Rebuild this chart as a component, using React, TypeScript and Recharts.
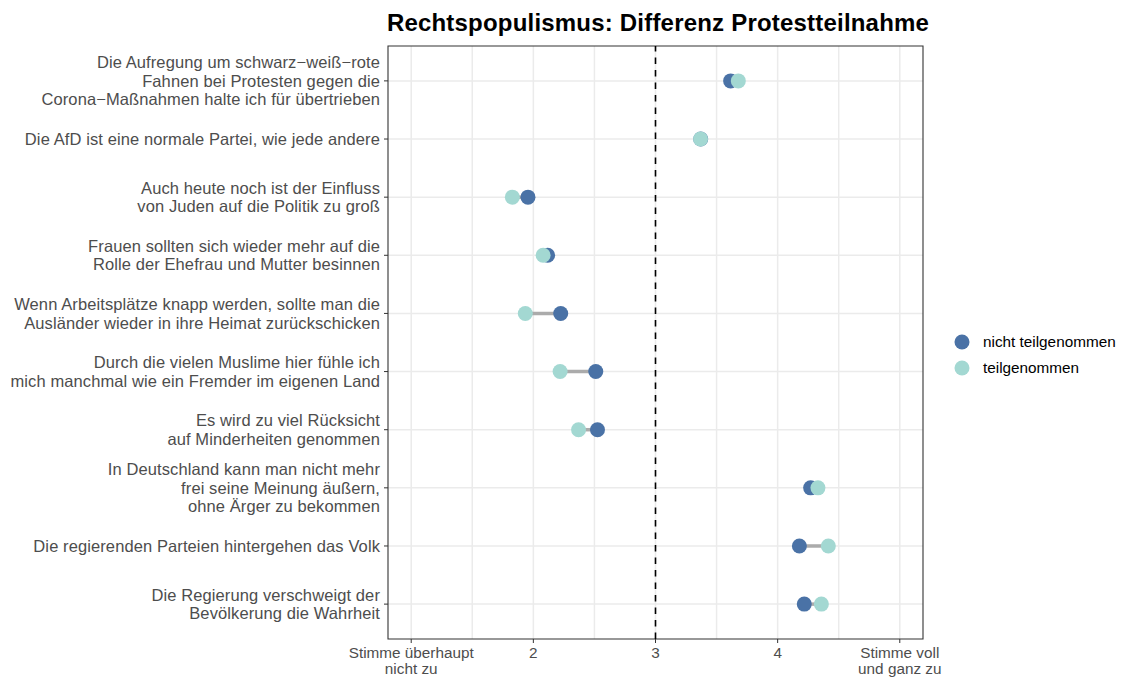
import React from "react";
import {
  ScatterChart,
  Scatter,
  XAxis,
  YAxis,
  CartesianGrid,
  ReferenceLine,
  ReferenceArea,
} from "recharts";

const statements: string[] = [
  "Die Aufregung um schwarz\u2212weiß\u2212rote\nFahnen bei Protesten gegen die\nCorona\u2212Maßnahmen halte ich für übertrieben",
  "Die AfD ist eine normale Partei, wie jede andere",
  "Auch heute noch ist der Einfluss\nvon Juden auf die Politik zu groß",
  "Frauen sollten sich wieder mehr auf die\nRolle der Ehefrau und Mutter besinnen",
  "Wenn Arbeitsplätze knapp werden, sollte man die\nAusländer wieder in ihre Heimat zurückschicken",
  "Durch die vielen Muslime hier fühle ich\nmich manchmal wie ein Fremder im eigenen Land",
  "Es wird zu viel Rücksicht\nauf Minderheiten genommen",
  "In Deutschland kann man nicht mehr\nfrei seine Meinung äußern,\nohne Ärger zu bekommen",
  "Die regierenden Parteien hintergehen das Volk",
  "Die Regierung verschweigt der\nBevölkerung die Wahrheit",
];

const nichtTeilgenommen: number[] = [3.615, 3.37, 1.956, 2.117, 2.224, 2.511, 2.525, 4.27, 4.178, 4.218];
const teilgenommen: number[] = [3.678, 3.369, 1.828, 2.08, 1.934, 2.219, 2.37, 4.33, 4.415, 4.358];

const xTicks: number[] = [1, 2, 3, 4, 5];
const xTickLabels: string[] = ["Stimme überhaupt\nnicht zu", "2", "3", "4", "Stimme voll\nund ganz zu"];
const xGrid: number[] = [1, 1.5, 2, 2.5, 3, 3.5, 4, 4.5, 5];

const seriesNames = ["nicht teilgenommen", "teilgenommen"];
const colors = ["#4A72A6", "#A3D8D2"];

const rows = statements.map((_, i) => i + 1);
const nichtData = nichtTeilgenommen.map((v, i) => ({ x: v, y: i + 1 }));
const teilData = teilgenommen.map((v, i) => ({ x: v, y: i + 1 }));

const FONT = "'Liberation Sans', Arial, Helvetica, sans-serif";

const XTick = (props: any) => {
  const { x, y, payload } = props;
  const idx = xTicks.indexOf(payload.value);
  const lines = (idx >= 0 ? xTickLabels[idx] : String(payload.value)).split("\n");
  return (
    <text x={x} y={y} textAnchor="middle" fill="#4D4D4D" fontSize={15.3} fontFamily={FONT}>
      {lines.map((l, i) => (
        <tspan key={i} x={x} dy={i === 0 ? 12.5 : 16}>
          {l}
        </tspan>
      ))}
    </text>
  );
};

const YTick = (props: any) => {
  const { x, y, payload } = props;
  const idx = Math.round(payload.value) - 1;
  const lines = (statements[idx] || "").split("\n");
  const lh = 18.5;
  return (
    <text
      x={x}
      y={y}
      textAnchor="end"
      fill="#4D4D4D"
      fontSize={16.5}
      letterSpacing={0.1}
      fontFamily={FONT}
    >
      {lines.map((l, i) => (
        <tspan key={i} x={x - 2} y={y + (i - (lines.length - 1) / 2) * lh} dy="0.36em">
          {l}
        </tspan>
      ))}
    </text>
  );
};

export default function App() {
  return (
    <div style={{ position: "absolute", left: 0, top: 0, width: 1124, height: 677, background: "#fff" }}>
      <div
        style={{
          position: "absolute",
          left: 308,
          width: 700,
          top: 9,
          textAlign: "center",
          fontFamily: FONT,
          fontWeight: "bold",
          fontSize: 24,
          letterSpacing: 0.2,
          lineHeight: "28px",
          color: "#000",
          zIndex: 2,
        }}
      >
        Rechtspopulismus: Differenz Protestteilnahme
      </div>
      <div
        style={{
          position: "absolute",
          left: 952,
          top: 329.5,
          fontFamily: FONT,
          fontSize: 15.3,
          color: "#000",
          zIndex: 2,
        }}
      >
        {seriesNames.map((n, i) => (
          <div key={n} style={{ display: "flex", alignItems: "center", height: 25.5 }}>
            <svg width={20} height={20} style={{ marginRight: 11 }}>
              <circle cx={10} cy={10} r={7.5} fill={colors[i]} />
            </svg>
            <span>{n}</span>
          </div>
        ))}
      </div>
      <ScatterChart width={1124} height={677} margin={{ top: 46, right: 201, bottom: 0, left: 0 }}>
        <CartesianGrid stroke="#EBEBEB" strokeWidth={1.5} verticalValues={xGrid} horizontalValues={rows} />
        <XAxis
          type="number"
          dataKey="x"
          domain={[0.81, 5.19]}
          ticks={xTicks}
          allowDataOverflow
          height={38}
          tick={<XTick />}
          tickLine={{ stroke: "#333" }}
          tickSize={4}
          axisLine={false}
        />
        <YAxis
          type="number"
          dataKey="y"
          domain={[0.4, 10.6]}
          ticks={rows}
          reversed
          allowDataOverflow
          width={388}
          tick={<YTick />}
          tickLine={{ stroke: "#333" }}
          tickSize={4}
          axisLine={false}
          interval={0}
        />
        <ReferenceArea
          x1={0.81}
          x2={5.19}
          y1={0.4}
          y2={10.6}
          fill="none"
          stroke="#333"
          strokeWidth={1.1}
          ifOverflow="visible"
        />
        <ReferenceLine x={3} stroke="#000" strokeWidth={1.6} strokeDasharray="6.5 6" />
        {rows.map((r, i) => (
          <ReferenceLine
            key={r}
            segment={[
              { x: nichtTeilgenommen[i], y: r },
              { x: teilgenommen[i], y: r },
            ]}
            stroke="#ABABAB"
            strokeWidth={3.5}
          />
        ))}
        <Scatter
          name={seriesNames[0]}
          data={nichtData}
          fill={colors[0]}
          isAnimationActive={false}
          shape={(p: any) => <circle cx={p.cx} cy={p.cy} r={7.5} fill={colors[0]} />}
        />
        <Scatter
          name={seriesNames[1]}
          data={teilData}
          fill={colors[1]}
          isAnimationActive={false}
          shape={(p: any) => <circle cx={p.cx} cy={p.cy} r={7.5} fill={colors[1]} />}
        />
      </ScatterChart>
    </div>
  );
}
